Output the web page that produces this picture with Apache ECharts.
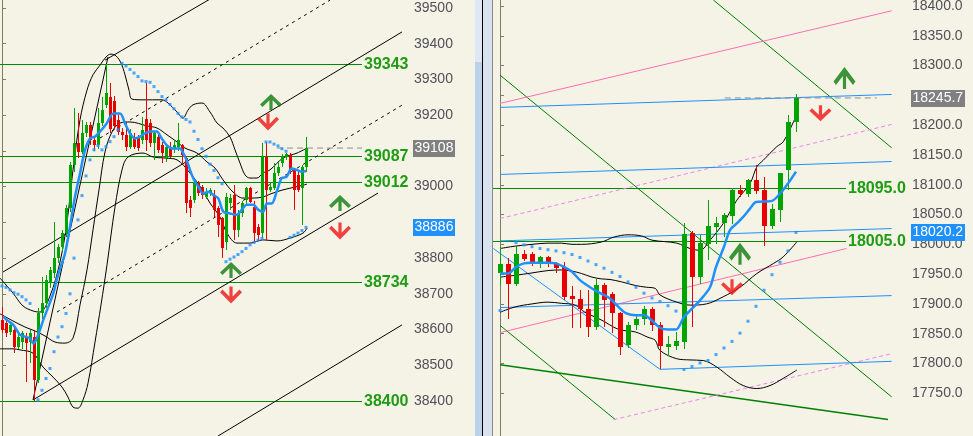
<!DOCTYPE html>
<html><head><meta charset="utf-8">
<script src="https://cdn.jsdelivr.net/npm/echarts@6/dist/echarts.min.js"></script>
<style>html,body{margin:0;padding:0;background:#f5f3e6;}#c{width:973px;height:436px;}</style>
</head><body><div id="c"></div>
<script>
// ---------- LEFT PANEL DATA (index, price) ----------
// candles: [open, close, low, high]
const leftCandles = [
[38626,38598,38589,38664],[38617,38589,38580,38630],[38594,38612,38585,38620],[38598,38552,38533,38605],
[38552,38580,38545,38590],[38566,38589,38545,38595],[38580,38561,38454,38590],[38566,38589,38505,38600],
[38580,38459,38400,38600],[38459,38645,38450,38660],[38645,38673,38630,38748],[38673,38738,38660,38752],
[38729,38766,38715,38775],[38757,38799,38745,38902],[38799,38832,38785,38840],[38832,38869,38820,38880],
[38869,38939,38860,38950],[38939,39060,38930,39070],[39060,39121,39040,39219],[39121,39098,39080,39205],
[39098,39149,39090,39186],[39149,39172,39140,39180],[39172,39130,39117,39180],[39130,39116,39100,39140],
[39116,39177,39105,39219],[39177,39214,39170,39250],[39228,39261,39220,39343],[39252,39160,39150,39290],
[39240,39170,39160,39255],[39186,39154,39145,39205],[39154,39144,39130,39165],[39144,39112,39100,39177],
[39112,39149,39105,39160],[39140,39112,39105,39150],[39140,39108,39100,39145],[39130,39158,39120,39196],
[39188,39130,39100,39289],[39177,39121,39110,39190],[39121,39149,39074,39155],[39140,39102,39095,39150],
[39116,39095,39065,39125],[39080,39110,39070,39115],[39110,39085,39080,39125],[39105,39116,39095,39130],
[39112,39130,39100,39177],[39116,39088,39065,39120],[39079,38953,38925,39085],[38963,38940,38916,38975],
[38963,39010,38955,39020],[39010,38981,38975,39015],[39000,38976,38965,39005],[38972,38986,38965,38995],
[38981,38991,38975,38995],[38977,38935,38915,38990],[38939,38892,38860,38945],[38911,38827,38799,38915],
[38846,38972,38822,38982],[38953,38968,38935,38980],[38976,38878,38851,39004],[38878,38925,38860,38935],
[38925,38953,38915,38960],[38963,38995,38945,39000],[38995,38958,38955,39000],[38944,38870,38841,38960],
[38888,38865,38850,38895],[38869,39084,38855,39121],[39084,38991,38851,39126],[38991,39000,38985,39010],
[38995,39037,38990,39065],[39037,39056,39030,39070],[39065,39084,39055,39090],[39084,39090,39075,39095],
[39088,39046,39035,39093],[39046,38990,38935,39050],[39032,38991,38985,39045],[38995,39056,38892,39060],
[39056,39108,39040,39140]
];
const leftMA = [[0.33,38636],[1.17,38627],[2.83,38613],[3.67,38599],[4.5,38585],[5.75,38580],[7,38575],[7.83,38561],[8.67,38575],[9.5,38599],[10.33,38627],[11.58,38664],[12.83,38701],[13.67,38739],[14.5,38770],[15.75,38813],[17,38888],[18.25,38972],[19.5,39037],[20.75,39102],[22,39135],[23.25,39140],[24.5,39154],[26.17,39177],[27.83,39205],[29.5,39205],[30.75,39177],[32,39149],[33.25,39135],[34.5,39140],[35.75,39149],[37,39154],[38.67,39154],[39.92,39135],[41.17,39116],[42.42,39107],[44.5,39107],[45.33,39093],[46.17,39074],[47,39047],[47.83,39023],[49.08,39000],[50.33,38981],[51.58,38986],[52.83,38977],[54.08,38967],[55.33,38930],[57,38925],[58.67,38921],[59.92,38935],[61.17,38949],[62.83,38949],[64.08,38935],[65.33,38930],[66.17,38953],[67.42,38953],[68.67,38986],[69.92,39023],[71.17,39028],[72.42,39051],[73.67,39047],[74.92,39042],[76,39044]];
const leftSAR = [[0,38722],[1,38718],[2,38711],[3,38703],[4,38699],[5,38692],[6,38683],[7,38673],
[9,38403],[10,38430],[11,38463],[12,38491],[13,38538],[14,38579],[15,38608],[16,38645],[17,38700],[18,38800],[19,38907],[20,38975],[21,39030],[22,39075],[23,39103],[24,39115],[25,39103],[26,39112],[27,39126],[28,39140],[29,39159],
[30,39345],[31,39338],[32,39328],[33,39318],[34,39308],[35,39296],[36,39294],[37,39292],[38,39280],[39,39266],[40,39252],[41,39243],[42,39230],[43,39218],[44,39205],[45,39195],[46,39188],[47,39181],[48,39155],[49,39132],[50,39106],[51,39085],[52,39063],[53,39045],[54,39025],[55,39008],
[56,38790],[57,38797],[58,38803],[59,38810],[60,38818],[61,38827],[62,38837],[63,38844],[64,38850],[65,38855],
[66,39125],[67,39125],[68,39119],[69,39114],[70,39106],[71,39099],
[72,38858],[73,38864],[74,38870],[75,38877],[76,38886]];
const leftUpper = [[-0.5,38744],[2.75,38702],[5.25,38666],[7.75,38652],[9.5,38649],[12,38694],[14.5,38789],[16.25,38901],[17.75,39047],[19.5,39187],[21.25,39270],[22.75,39313],[24.5,39340],[26,39363],[27.25,39371],[28.5,39366],[29.75,39346],[30.75,39313],[31.75,39270],[32.5,39245],[35.25,39243],[40,39243],[41.5,39234],[43.75,39209],[45.25,39192],[46.5,39214],[47.75,39229],[50,39234],[52,39209],[53.75,39178],[55.25,39164],[57,39139],[58.25,39103],[59.5,39066],[60.75,39033],[62,39024],[63.75,39024],[65.25,39038],[67,39047],[70.25,39080],[73.75,39094],[76.25,39108]];
const leftMiddle = [[-0.5,38644],[2.75,38624],[5.75,38607],[8.25,38596],[10.75,38582],[13.25,38565],[15.75,38562],[17.75,38576],[19.5,38669],[21.25,38767],[22.75,38879],[24.25,38991],[25.75,39097],[27.5,39153],[29.5,39178],[32,39181],[36.25,39170],[38.75,39164],[41.25,39145],[43.75,39125],[45.75,39108],[48.75,39094],[51.25,39069],[53.25,39052],[55.25,39019],[57.75,38985],[60.25,38968],[62.75,38968],[65.25,38971],[67,38979],[70.25,38991],[73.75,39000],[76.25,39007]];
const leftLower = [[-0.5,38546],[2.75,38546],[4.5,38543],[7.75,38534],[10.25,38495],[12.75,38467],[15,38439],[16.5,38411],[17.75,38383],[19,38380],[20.25,38403],[21.5,38450],[23.25,38565],[24.75,38669],[26.25,38781],[28.25,38943],[30,39047],[31.5,39083],[35.25,39094],[37.75,39083],[40.75,39080],[43.75,39075],[47,39038],[49.5,39001],[52,38954],[54.5,38915],[56.25,38870],[58.75,38842],[62,38842],[65.25,38851],[68.75,38848],[72,38856],[75.25,38870],[76.25,38884]];
const leftSolidLines = [
  [[7.75,38403],[26.5,39363]],
  [[25.75,39354],[52,39525]],
  [[0.25,38761],[100,39433]],
  [[7.75,38403],[94,38982]],
  [[54,38302],[100,38613]]
];
const leftDashedLines = [
  [[24.5,39136],[82,39522]],
  [[13.75,38649],[100,39228]]
];
const leftTicks = [38400,38500,38600,38700,38800,38900,39000,39100,39200,39300,39400,39500];
const leftTickLabels = [38400,38500,38600,38700,38800,39000,39200,39300,39400,39500];
const leftLevels = [39343, 39087, 39012, 38734, 38400];
const leftLevelRange = [-0.5, 89.9];
const leftPriceLine = [[68.75,39108],[90,39108]];
const leftLastPrice = 39108, leftBluePrice = 38886;
const leftUpArrows = [[67.25,39237],[84.5,38954],[57.25,38767]];
const leftDownArrows = [[66.5,39181],[84.5,38876],[57.25,38697]];

// ---------- RIGHT PANEL DATA ----------
const rightCandles = [
[17952,17967,17931,17996],[17967,17934,17874,17977],[17934,17983,17930,17997],[17983,17975,17972,17990],
[17983,17971,17963,17987],[17968,17978,17961,17980],[17978,17968,17962,17980],[17968,17961,17952,17971],
[17962,17912,17906,17971],[17913,17909,17859,17930],[17909,17891,17859,17924],[17891,17861,17845,17924],
[17861,17931,17856,17941],[17931,17906,17861,17935],[17916,17884,17851,17920],[17884,17827,17815,17886],
[17831,17864,17826,17869],[17864,17875,17857,17881],[17874,17891,17864,17896],[17891,17864,17855,17895],
[17865,17829,17791,17870],[17828,17833,17812,17846],[17830,17838,17822,17853],[17836,18018,17825,18036],
[18019,17946,17862,18023],[17946,18002,17934,18015],[18001,18030,17973,18074],[18029,18036,18001,18046],
[18036,18049,18012,18052],[18047,18092,18034,18095],[18092,18084,18079,18099],[18084,18108,18079,18110],
[18108,18089,18085,18133],[18091,18030,17997,18113],[18030,18060,18025,18067],[18057,18120,18038,18120],
[18124,18206,18091,18217],[18206,18245.7,18189,18252]
];
const rightMA = [[0,17951],[1,17951],[2,17962],[3,17968],[4,17969],[6,17969],[7,17968],[8,17962],[9,17954],[10,17940],[11.5,17926],[12.7,17917],[13.75,17909],[14.8,17895],[15.8,17884],[17,17881],[18,17881],[19,17872],[20,17860],[21,17857],[22,17857],[23,17878],[24,17892],[25,17906],[26.25,17928],[27,17962],[28,17996],[28.75,18024],[29.6,18035],[30.4,18046],[31.25,18060],[32,18071],[34,18073],[35,18085],[36,18102],[37,18122]];
const rightSAR = [[0,17889],[2,18003],[3,17999],[4,17996],[5,17993],[6,17991],[7,17989],[8,17986],[9,17983],[10,17978],[11,17972],[12,17966],[13,17960],[14,17953],[15,17946],[16,17937],[17,17928],[18,17918],[19,17910],[20,17904],[21,17897],[22,17888],
[23,17790],[24,17795],[25,17801],[26,17805],[27,17815],[28,17826],[29,17837],[30,17851],[31,17871],[32,17896],[33,17923],[34,17949],[35,17970],[36,17989],[37,18020]];
const rightUpper = [[0,17993],[1.9,17997],[4,18000],[6,18002],[7.7,18002],[9,18000],[10.2,18000],[12.7,18004],[14.2,18012],[16,18016],[17.7,18014],[19,18007],[22.1,18002],[23.75,17993],[25,17990],[26.25,18007],[27.9,18035],[29.6,18074],[31.25,18102],[32.1,18130],[32.9,18141],[34.6,18164],[35.4,18172],[36.7,18206],[37.1,18220]];
const rightMiddle = [[0,17945],[1.9,17948],[4,17952],[6,17956],[7.7,17957],[9,17955],[10.2,17951],[11.5,17945],[12.7,17942],[13.75,17941],[15.2,17937],[16.9,17931],[18.3,17928],[19.4,17926],[20,17915],[22.1,17903],[23.75,17898],[25.8,17900],[27.9,17912],[30,17928],[32.1,17951],[34.2,17968],[35.4,17979],[37.1,18004]];
const rightLower = [[0,17886],[1.9,17895],[4,17900],[6,17903],[7.7,17901],[9.4,17898],[10.6,17886],[11.9,17878],[13.1,17870],[14.2,17861],[15.2,17856],[16.9,17853],[18.5,17844],[19.4,17839],[20,17822],[22.1,17808],[23.75,17806],[25.4,17805],[27.1,17794],[28.75,17777],[30.4,17763],[32.1,17758],[33.75,17763],[35.4,17775],[37.1,17789]];
const rightBlueLines = [
  [[0,18229.8],[48.96,18251.6]],
  [[0,18117.3],[48.96,18139]],
  [[0,18005.8],[48.96,18026.5]],
  [[0,17893.9],[48.96,17914]],
  [[20,17790.2],[48.96,17803.7]],
  [[-0.83,17993],[20,17790.2]]
];
const rightPinkLines = [
  [[0,18236.5],[48.96,18392]],
  [[0,17851.8],[43.3,17993]]
];
const rightVioletDashed = [
  [[0,18043.3],[48.96,18201.2]],
  [[14.2,17705.7],[48.96,17816.6]]
];
const rightGreenLines = [
  [[0,18284],[48.96,17744]],
  [[26.67,18410],[48.96,18162]],
  [[0,17864],[14.4,17706]]
];
const rightGreenThick = [[0,17798],[48.5,17706]];
const rightTicks = [17750,17800,17850,17900,17950,18000,18050,18100,18150,18200,18250,18300,18350,18400];
const rightTickLabels = [17750,17800,17850,17900,17950,18000,18050,18100,18150,18200,18300,18350,18400];
const rightLevels = [18095.0, 18005.0];
const rightLevelRange = [-0.875, 43.3];
const rightPriceLine = [[28.1,18245.7],[47.1,18245.7]];
const rightLastPrice = 18245.7, rightBluePrice = 18020.2;
const rightUpArrows = [[43.06,18279],[30,17984]];
const rightDownArrows = [[40.06,18220],[29,17928]];

// ---------- CHART ----------
const BG = '#f5f3e6', GREEN = '#00a400', RED = '#e60000', BLUE = '#1e90ff';
const AXIS = '#7d7d62', LBL = '#505058', LEVEL = '#1f9c14', LEVEL_LINE = '#008a00';
const FONT = 'Liberation Sans, Arial, sans-serif';
const UP_PATH = 'path://M11,0 L22,10.5 L19.5,13 L12.6,6.4 L12.6,16 L9.4,16 L9.4,6.4 L2.5,13 L0,10.5 Z';
const DN_PATH = 'path://M11,16 L22,5.5 L19.5,3 L12.6,9.6 L12.6,0 L9.4,0 L9.4,9.6 L2.5,3 L0,5.5 Z';

function candleRender(bw) {
  return function (params, api) {
    const x = api.value(0), o = api.value(1), c = api.value(2), l = api.value(3), h = api.value(4);
    const pO = api.coord([x, o]), pC = api.coord([x, c]), pL = api.coord([x, l]), pH = api.coord([x, h]);
    const cx = Math.round(pH[0]);
    const col = c >= o ? GREEN : RED;
    const top = Math.round(Math.min(pO[1], pC[1])), bot = Math.round(Math.max(pO[1], pC[1]));
    const hy = Math.round(pH[1]), ly = Math.round(pL[1]);
    return { type: 'group', children: [
      { type: 'rect', shape: { x: cx, y: hy, width: 1, height: Math.max(1, ly - hy) }, style: { fill: col } },
      { type: 'rect', shape: { x: cx - Math.floor(bw / 2), y: top, width: bw, height: Math.max(1, bot - top) }, style: { fill: col } }
    ]};
  };
}
function levelRender(range, fmt) {
  return function (params, api) {
    const v = api.value(1);
    const p0 = api.coord([range[0], v]), p1 = api.coord([range[1], v]);
    const y = Math.round(p0[1]);
    return { type: 'group', children: [
      { type: 'rect', shape: { x: Math.floor(p0[0]), y: y, width: Math.round(p1[0] - p0[0]), height: 1 }, style: { fill: LEVEL_LINE } },
      { type: 'text', x: Math.round(p1[0]) + 2, y: y + 0.5, style: { text: fmt(v), fill: LEVEL, font: 'bold 16px ' + FONT, verticalAlign: 'middle', textVerticalAlign: 'middle', align: 'left' } }
    ]};
  };
}
function lineS(g, data, color, width, opts) {
  return Object.assign({ type: 'line', xAxisIndex: g, yAxisIndex: g, data: data, symbol: 'none', silent: true,
    lineStyle: { color: color, width: width }, z: 2, animation: false }, opts || {});
}

const series = [];
// left panel
leftSolidLines.forEach(d => series.push(lineS(0, d, '#000', 1)));
leftDashedLines.forEach(d => series.push(lineS(0, d, '#000', 1, { lineStyle: { color: '#000', width: 1, type: [3, 4] } })));
series.push(lineS(0, leftUpper, '#000', 1, { smooth: 0.35 }));
series.push(lineS(0, leftMiddle, '#000', 1, { smooth: 0.35 }));
series.push(lineS(0, leftLower, '#000', 1, { smooth: 0.35 }));
series.push(lineS(0, leftPriceLine, '#8c8c8c', 1, { lineStyle: { color: '#8c8c8c', width: 1, type: [6, 4] } }));
series.push({ type: 'custom', xAxisIndex: 0, yAxisIndex: 0, renderItem: levelRender(leftLevelRange, v => String(v)), clip: false, z: 2, silent: true, animation: false,
  encode: { x: 0, y: 1 }, data: leftLevels.map(v => [leftLevelRange[0], v]) });
series.push({ type: 'custom', xAxisIndex: 0, yAxisIndex: 0, renderItem: candleRender(3), clip: true, z: 3, animation: false,
  dimensions: ['i', 'o', 'c', 'l', 'h'], encode: { x: 0, y: [1, 2, 3, 4] },
  data: leftCandles.map((d, i) => [i, d[0], d[1], d[2], d[3]]) });
series.push(lineS(0, leftMA, BLUE, 2.5, { smooth: 0.3, z: 4 }));
series.push({ type: 'scatter', xAxisIndex: 0, yAxisIndex: 0, data: leftSAR, symbol: 'rect', symbolSize: 3, itemStyle: { color: BLUE }, silent: true, z: 4, animation: false });
series.push({ type: 'scatter', xAxisIndex: 0, yAxisIndex: 0, data: leftUpArrows, symbol: UP_PATH, symbolSize: [22, 16], itemStyle: { color: '#0c7d0c' }, silent: true, z: 6, animation: false });
series.push({ type: 'scatter', xAxisIndex: 0, yAxisIndex: 0, data: leftDownArrows, symbol: DN_PATH, symbolSize: [22, 17], itemStyle: { color: '#f01414' }, silent: true, z: 6, animation: false });

// right panel
rightGreenLines.forEach(d => series.push(lineS(1, d, '#008000', 1)));
series.push(lineS(1, rightGreenThick, '#008000', 1.5));
rightPinkLines.forEach(d => series.push(lineS(1, d, '#ff6eb4', 1)));
rightVioletDashed.forEach(d => series.push(lineS(1, d, '#ee82ee', 1, { lineStyle: { color: '#ee82ee', width: 1, type: [4, 3] } })));
rightBlueLines.forEach(d => series.push(lineS(1, d, BLUE, 1)));
series.push(lineS(1, rightUpper, '#000', 1, { smooth: 0.35 }));
series.push(lineS(1, rightMiddle, '#000', 1, { smooth: 0.35 }));
series.push(lineS(1, rightLower, '#000', 1, { smooth: 0.35 }));
series.push(lineS(1, rightPriceLine, '#8c8c8c', 1, { lineStyle: { color: '#8c8c8c', width: 1, type: [6, 4] } }));
series.push({ type: 'custom', xAxisIndex: 1, yAxisIndex: 1, renderItem: levelRender(rightLevelRange, v => v.toFixed(1)), clip: false, z: 2, silent: true, animation: false,
  encode: { x: 0, y: 1 }, data: rightLevels.map(v => [rightLevelRange[0], v]) });
series.push({ type: 'custom', xAxisIndex: 1, yAxisIndex: 1, renderItem: candleRender(5), clip: true, z: 3, animation: false,
  dimensions: ['i', 'o', 'c', 'l', 'h'], encode: { x: 0, y: [1, 2, 3, 4] },
  data: rightCandles.map((d, i) => [i, d[0], d[1], d[2], d[3]]) });
series.push(lineS(1, rightMA, BLUE, 2.5, { smooth: 0.3, z: 4 }));
series.push({ type: 'scatter', xAxisIndex: 1, yAxisIndex: 1, data: rightSAR, symbol: 'rect', symbolSize: 3, itemStyle: { color: BLUE }, silent: true, z: 4, animation: false });
series.push({ type: 'scatter', xAxisIndex: 1, yAxisIndex: 1, data: rightUpArrows, symbol: UP_PATH, symbolSize: [22, 22], itemStyle: { color: '#0c7d0c' }, silent: true, z: 6, animation: false });
series.push({ type: 'scatter', xAxisIndex: 1, yAxisIndex: 1, data: rightDownArrows, symbol: DN_PATH, symbolSize: [22, 16], itemStyle: { color: '#f01414' }, silent: true, z: 6, animation: false });

function yAx(g, min, max, ticks, labels, fmt) {
  return { type: 'value', gridIndex: g, position: 'right', min: min, max: max,
    axisLine: { show: true, lineStyle: { color: AXIS, width: 1 } },
    axisTick: { show: true, length: 4, lineStyle: { color: AXIS }, customValues: ticks },
    axisLabel: { color: LBL, fontSize: 14, fontFamily: FONT, margin: 5, formatter: fmt, customValues: labels },
    splitLine: { show: false } };
}

const chart = echarts.init(document.getElementById('c'), null, { renderer: 'canvas', width: 973, height: 436 });
chart.setOption({
  animation: false,
  backgroundColor: BG,
  grid: [
    { left: 0, top: 0, width: 409, height: 436, containLabel: false, outerBoundsMode: 'none' },
    { left: 493, top: 0, width: 414, height: 436, containLabel: false, outerBoundsMode: 'none' }
  ],
  xAxis: [
    { type: 'value', gridIndex: 0, min: -0.5, max: 101.75, show: false },
    { type: 'value', gridIndex: 1, min: -0.875, max: 50.875, show: false }
  ],
  yAxis: [
    yAx(0, 38302.04, 39522.39, leftTicks, leftTickLabels, v => String(v)),
    yAx(1, 17678.34, 18410.07, rightTicks, rightTickLabels, v => Number(v).toFixed(1))
  ],
  series: series
});

function box(x, w, y, text, fill) {
  const yy = Math.round(y);
  return [
    { type: 'rect', z: 100, shape: { x: x, y: yy - 8, width: w, height: 17 }, style: { fill: fill } },
    { type: 'text', z: 101, x: x + 1.5, y: yy + 0.5, style: { text: text, fill: '#ffffff', font: '14px ' + FONT, verticalAlign: 'middle', textVerticalAlign: 'middle', align: 'left' } }
  ];
}
const yl = v => chart.convertToPixel({ yAxisIndex: 0 }, v);
const yr = v => chart.convertToPixel({ yAxisIndex: 1 }, v);
const g = [
  { type: 'rect', z: 90, shape: { x: 475, y: 0, width: 7, height: 436 }, style: { fill: '#bcd2ea' } },
  { type: 'rect', z: 90, shape: { x: 475, y: 0, width: 7, height: 62 }, style: { fill: '#dde8f4' } },
  { type: 'rect', z: 90, shape: { x: 482, y: 0, width: 1, height: 436 }, style: { fill: '#000000' } },
  { type: 'rect', z: 90, shape: { x: 483, y: 0, width: 9, height: 436 }, style: { fill: '#d9e3ef' } },
  { type: 'rect', z: 90, shape: { x: 492, y: 0, width: 1, height: 436 }, style: { fill: '#8a8a8a' } }
].concat(
  box(413, 42, yl(leftLastPrice), String(leftLastPrice), '#808080'),
  box(413, 42, yl(leftBluePrice), String(leftBluePrice), BLUE),
  box(911, 54, yr(rightLastPrice), rightLastPrice.toFixed(1), '#808080'),
  box(911, 54, yr(rightBluePrice), rightBluePrice.toFixed(1), BLUE)
);
chart.setOption({ graphic: g });
</script></body></html>
